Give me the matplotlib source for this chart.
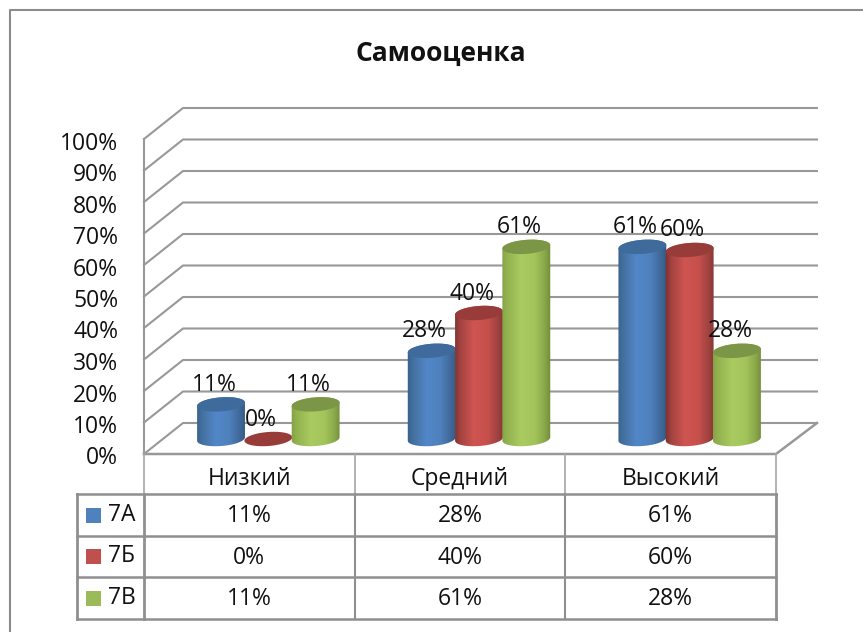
import numpy as np
import matplotlib
matplotlib.use("Agg")
import matplotlib.pyplot as plt
from matplotlib.colors import LinearSegmentedColormap
from matplotlib.patches import Polygon, Rectangle
from matplotlib.transforms import IdentityTransform, Affine2D

plt.rcParams["font.family"] = ["Open Sans", "DejaVu Sans"]

# data
title = "Самооценка"
categories = ["Низкий", "Средний", "Высокий"]
series_names = ["7А", "7Б", "7В"]
values_7a = [11, 28, 61]
values_7b = [0, 40, 60]
values_7c = [11, 61, 28]
y_ticks = [0, 10, 20, 30, 40, 50, 60, 70, 80, 90, 100]

W, H = 863, 632
fig = plt.figure(figsize=(W / 100, H / 100), dpi=100)
ax = fig.add_axes([144 / W, (H - 454) / H, 632 / W, 315 / H])
ax.set_xlim(0, 3)
ax.set_ylim(0, 100)
IDT = IdentityTransform()
GRID = "#989898"
TXT = "#111111"
FS = 16.5


# точка данных -> пиксели экрана (y снизу вверх)
def disp(x, v):
    return ax.transData.transform((x, v))


def line_px(xs, ys, color=GRID, lw=1.5, z=1):
    ax.plot(xs, ys, color=color, lw=lw, transform=IDT, clip_on=False,
            zorder=z, solid_capstyle="projecting")


# -------------------------------------------------
# стенки и пол
# -------------------------------------------------
DX, DY = 39, 31
for t in y_ticks:
    x0, y0 = disp(0, t)
    xe, _ = disp(3, t)
    line_px([x0, x0 + DX, xe + 41], [y0, y0 + DY, y0 + DY])
x0, y0 = disp(0, 0)
xe, _ = disp(3, 0)
_, ytop = disp(0, 100)
line_px([x0, x0], [y0, ytop])
line_px([x0, xe, xe + 41], [y0, y0, y0 + DY], lw=1.8)

ax.set_yticks(y_ticks)
ax.set_yticklabels([f"{t}%" for t in y_ticks], fontsize=FS, color=TXT)
ax.tick_params(axis="y", length=0, pad=18.5)
for lab in ax.get_yticklabels():
    lab.set_transform(lab.get_transform() + Affine2D().translate(0, -1.5))
ax.set_xticks([])
for s in ax.spines.values():
    s.set_visible(False)
ax.patch.set_visible(False)

# -------------------------------------------------
# цилиндры
# -------------------------------------------------
BAR_W = 48
BAR_STEP = 47.3
RY = 7
TILT = np.deg2rad(4.5)
BASE_DX, BASE_DY = 19, 15
grad_pos = [0.0, 0.12, 0.4, 0.68, 0.88, 1.0]
colors = [
    (["#38618c", "#44719f", "#5287c8", "#4e80bc", "#40699a", "#355a85"], "#3e6a9c", "#4f81bd"),
    (["#7a3230", "#a44340", "#cf5551", "#c64f4c", "#a04340", "#843634"], "#983c3a", "#c0504d"),
    (["#84a146", "#93b34f", "#a9cb60", "#a3c45b", "#8aa84a", "#728c3c"], "#7b9647", "#9bbb59"),
]


def ellipse(cx, cy, n=60, a0=0.0, a1=2 * np.pi):
    t = np.linspace(a0, a1, n)
    ex, ey = BAR_W / 2 * np.cos(t), RY * np.sin(t)
    return cx + ex * np.cos(TILT) - ey * np.sin(TILT), cy + ex * np.sin(TILT) + ey * np.cos(TILT)


all_values = [values_7a, values_7b, values_7c]
for i, vals in enumerate(all_values):
    cmap = LinearSegmentedColormap.from_list(f"c{i}", list(zip(grad_pos, colors[i][0])))
    for j, v in enumerate(vals):
        px0, py0 = disp(j + 0.5, 0)
        px1, py1 = disp(j + 0.5, v)
        cx = px0 + BASE_DX + (i - 1) * BAR_STEP
        ybase = py0 + BASE_DY
        ytopb = py1 + BASE_DY
        z = 3 + i
        if v > 0:
            bx, by = ellipse(cx, ybase, a0=np.pi, a1=2 * np.pi)
            tx, ty = ellipse(cx, ytopb, a0=0, a1=np.pi)
            outline = np.column_stack([np.r_[bx, tx], np.r_[by, ty]])
            clip = Polygon(outline, transform=IDT, fc="none", ec="none")
            ax.add_patch(clip)
            im = ax.imshow(np.linspace(0, 1, 64)[None, :], cmap=cmap, aspect="auto",
                           extent=[cx - BAR_W / 2 - 1, cx + BAR_W / 2 + 1, ybase - 10, ytopb + 10],
                           transform=IDT, zorder=z, clip_on=True)
            im.set_clip_path(clip)
        tx, ty = ellipse(cx, ytopb)
        ax.add_patch(Polygon(np.column_stack([tx, ty]), transform=IDT, fc=colors[i][1],
                             ec="none", zorder=z + 0.1, clip_on=False))
        ax.text(cx - 7, ytopb + 19.5, f"{v}%", transform=IDT, ha="center", va="center",
                fontsize=FS, color=TXT, zorder=10)

ax.set_xlim(0, 3)
ax.set_ylim(0, 100)

# -------------------------------------------------
# таблица данных
# -------------------------------------------------
row_y = [H - 494, H - 536, H - 577, H - 619]
x_left = 77
col_x = [disp(k, 0)[0] for k in range(4)]
LINE2 = "#8f8f8f"
for k, cx in enumerate(col_x):
    line_px([cx, cx], [row_y[0], row_y[-1]], color=LINE2, lw=1.5 if k % 3 else 2)
    line_px([cx, cx], [y0, row_y[0]], color="#a6a6a6", lw=1.2)
line_px([x_left, x_left], [row_y[0], row_y[-1]], color=LINE2, lw=2)
for ry in row_y:
    line_px([x_left, col_x[-1]], [ry, ry], color=LINE2, lw=1.8)

for k, name in enumerate(categories):
    ax.text(disp(k + 0.5, 0)[0], H - 479, name, transform=IDT, ha="center", va="center",
            fontsize=FS, color=TXT)
for i, vals in enumerate(all_values):
    yc = (row_y[i] + row_y[i + 1]) / 2
    ax.add_patch(Rectangle((86, yc - 7.5), 15, 15, transform=IDT, fc=colors[i][2], ec="none",
                           clip_on=False))
    ax.text(108, yc, series_names[i], transform=IDT, ha="left", va="center", fontsize=FS,
            color=TXT)
    for k, v in enumerate(vals):
        ax.text(disp(k + 0.5, 0)[0], yc - 1, f"{v}%", transform=IDT, ha="center", va="center",
                fontsize=FS, color=TXT)

# рамка и заголовок
fig.add_artist(plt.Line2D([10 / W, 10 / W, 1], [0, (H - 10) / H, (H - 10) / H],
                          color="#8c8c8c", lw=1.5))
fig.text(441 / W, (H - 53) / H, title, ha="center", va="center", fontsize=19,
         fontweight="bold", color=TXT)

fig.savefig("out.png", dpi=100)
